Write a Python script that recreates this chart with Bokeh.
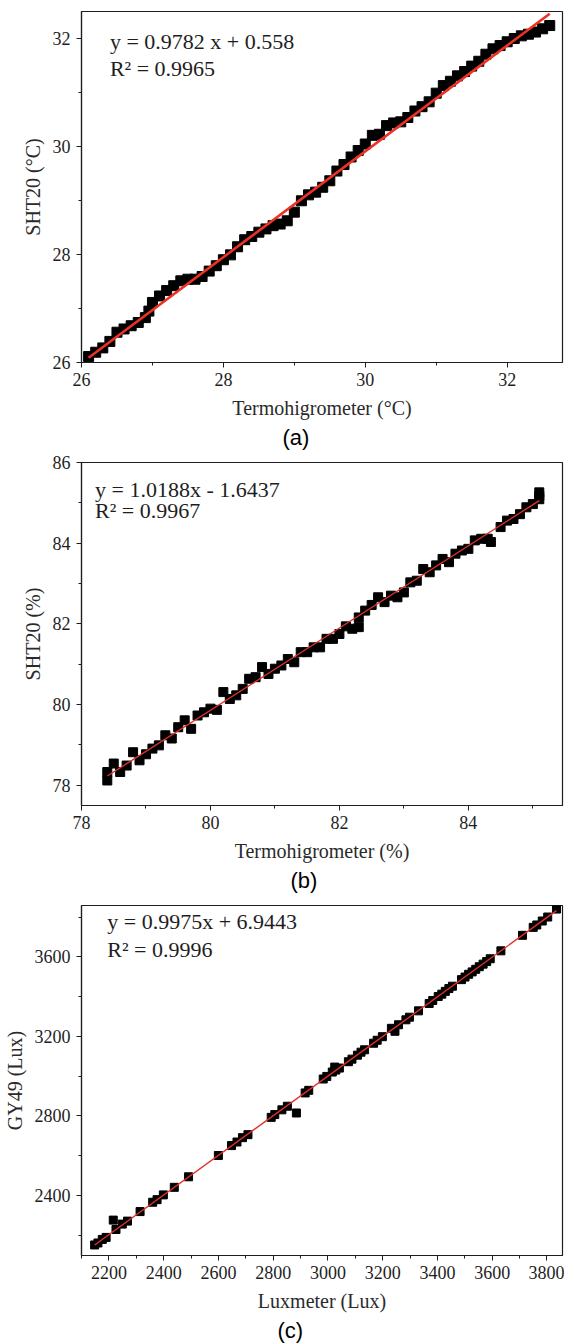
from bokeh.plotting import figure
from bokeh.layouts import column
from bokeh.models import Range1d, SingleIntervalTicker, Label, Title
from bokeh.embed import file_html
from bokeh.resources import INLINE

# ---------------- Panel (a): temperature ----------------
a_x = [26.1, 26.2, 26.3, 26.4, 26.5, 26.6, 26.7, 26.8, 26.9, 26.95,
       27.0, 27.1, 27.2, 27.3, 27.4, 27.5, 27.6, 27.7, 27.8, 27.9,
       28.0, 28.1, 28.2, 28.3, 28.4, 28.5, 28.6, 28.7, 28.8, 28.9,
       29.0, 29.1, 29.2, 29.3, 29.4, 29.5, 29.6, 29.7, 29.8, 29.9,
       30.0, 30.1, 30.2, 30.3, 30.4, 30.5, 30.6, 30.7, 30.8, 30.9,
       31.0, 31.1, 31.2, 31.3, 31.4, 31.5, 31.6, 31.7, 31.8, 31.9,
       32.0, 32.1, 32.2, 32.3, 32.4, 32.5, 32.6]
a_y = [26.11, 26.19, 26.27, 26.39, 26.56, 26.62, 26.68, 26.74, 26.83, 26.95,
       27.11, 27.23, 27.33, 27.42, 27.51, 27.54, 27.54, 27.59, 27.69, 27.79,
       27.90, 27.99, 28.14, 28.27, 28.33, 28.41, 28.47, 28.53, 28.56, 28.62,
       28.78, 28.99, 29.10, 29.15, 29.24, 29.36, 29.54, 29.66, 29.80, 29.92,
       30.04, 30.20, 30.22, 30.38, 30.43, 30.45, 30.53, 30.65, 30.73, 30.82,
       30.98, 31.12, 31.20, 31.30, 31.38, 31.48, 31.57, 31.70, 31.80, 31.86,
       31.93, 31.99, 32.04, 32.07, 32.11, 32.17, 32.23]
a_slope, a_intercept = 0.9782, 0.558
a_eq = "y = 0.9782 x + 0.558"
a_r2 = "R² = 0.9965"
a_xlabel = "Termohigrometer (°C)"
a_ylabel = "SHT20 (°C)"
a_tag = "(a)"

# ---------------- Panel (b): humidity ----------------
b_x = [78.4, 78.4, 78.5, 78.6, 78.7, 78.8, 78.9,
       79.0, 79.1, 79.2, 79.3, 79.4, 79.5, 79.6, 79.7, 79.8, 79.9,
       80.0, 80.1, 80.2, 80.3, 80.4, 80.5, 80.6, 80.7, 80.8, 80.9,
       81.0, 81.1, 81.2, 81.3, 81.4, 81.5, 81.6, 81.7, 81.8, 81.9,
       82.0, 82.1, 82.2, 82.3, 82.3, 82.4, 82.5, 82.6, 82.7, 82.8, 82.9,
       83.0, 83.1, 83.2, 83.3, 83.4, 83.5, 83.6, 83.7, 83.8, 83.9,
       84.0, 84.1, 84.2, 84.3, 84.35, 84.5, 84.6, 84.7, 84.8, 84.9,
       85.0, 85.1, 85.1, 85.1]
b_y = [78.12, 78.33, 78.54, 78.33, 78.49, 78.82, 78.62,
       78.77, 78.91, 78.99, 79.24, 79.16, 79.44, 79.61, 79.40, 79.73, 79.81,
       79.90, 79.87, 80.31, 80.14, 80.23, 80.39, 80.64, 80.68, 80.93, 80.76,
       80.89, 80.97, 81.13, 81.05, 81.30, 81.30, 81.42, 81.42, 81.63, 81.63,
       81.75, 81.94, 81.88, 81.92, 82.16, 82.33, 82.47, 82.66, 82.54, 82.70, 82.66,
       82.78, 83.03, 83.07, 83.36, 83.28, 83.45, 83.61, 83.53, 83.74, 83.82,
       83.86, 84.07, 84.11, 84.11, 84.03, 84.40, 84.56, 84.60, 84.72, 84.89,
       84.97, 85.09, 85.26, 85.17]
b_slope, b_intercept = 1.0188, -1.6437
b_eq = "y = 1.0188x - 1.6437"
b_r2 = "R² = 0.9967"
b_xlabel = "Termohigrometer (%)"
b_ylabel = "SHT20 (%)"
b_tag = "(b)"

# ---------------- Panel (c): illuminance ----------------
c_x = [2148, 2160, 2176, 2190, 2216, 2226, 2249, 2268, 2314, 2360,
       2376, 2399, 2439, 2491, 2600, 2648, 2668, 2688, 2708, 2793,
       2806, 2832, 2852, 2885, 2917, 2930, 2983, 2996, 3016, 3025,
       3029, 3042, 3075, 3088, 3108, 3121, 3134, 3167, 3180, 3199,
       3232, 3245, 3258, 3285, 3298, 3331, 3370, 3383, 3403, 3416,
       3429, 3442, 3455, 3488, 3501, 3514, 3527, 3540, 3553, 3567,
       3580, 3593, 3632, 3711, 3750, 3763, 3783, 3803, 3835]
c_y = [2150, 2160, 2178, 2188, 2275, 2228, 2255, 2270, 2318, 2365,
       2378, 2402, 2440, 2493, 2600, 2650, 2668, 2690, 2705, 2792,
       2806, 2830, 2848, 2814, 2915, 2928, 2985, 2998, 3020, 3045,
       3030, 3040, 3072, 3085, 3105, 3120, 3132, 3165, 3180, 3198,
       3240, 3225, 3258, 3283, 3296, 3328, 3365, 3380, 3400, 3412,
       3426, 3440, 3452, 3485, 3498, 3512, 3524, 3537, 3550, 3563,
       3576, 3590, 3630, 3708, 3748, 3760, 3780, 3800, 3840]
c_slope, c_intercept = 0.9975, 6.9443
c_eq = "y = 0.9975x + 6.9443"
c_r2 = "R² = 0.9996"
c_xlabel = "Luxmeter (Lux)"
c_ylabel = "GY49 (Lux)"
c_tag = "(c)"

SERIF = "Liberation Serif"
SANS = "Liberation Sans"
INK = "#1e1e1e"


def panel(xs, ys, slope, intercept, eq, r2, xlabel, ylabel, tag,
          xr, yr, xint, yint, height, borders, eq_pos, r2_pos,
          msize, lw, lcolor, tag_offset):
    left, right, top, bottom = borders
    p = figure(width=564, height=height, x_range=Range1d(*xr), y_range=Range1d(*yr),
               output_backend="svg", toolbar_location=None,
               min_border_left=left, min_border_right=right,
               min_border_top=top, min_border_bottom=bottom)
    p.grid.visible = False
    p.outline_line_color = INK
    p.outline_line_width = 1.2
    p.outline_line_alpha = 1.0
    p.background_fill_color = "white"
    p.border_fill_color = "white"

    p.xaxis.ticker = SingleIntervalTicker(interval=xint, num_minor_ticks=2)
    p.yaxis.ticker = SingleIntervalTicker(interval=yint, num_minor_ticks=2)
    for ax in (p.xaxis, p.yaxis):
        ax.axis_line_color = INK
        ax.axis_line_width = 1.2
        ax.major_tick_line_color = INK
        ax.minor_tick_line_color = INK
        ax.major_tick_in = 0
        ax.major_tick_out = 5
        ax.minor_tick_in = 0
        ax.minor_tick_out = 3
        ax.major_label_text_font = SERIF
        ax.major_label_text_font_size = "18px"
        ax.major_label_text_color = INK
        ax.axis_label_text_font = SERIF
        ax.axis_label_text_font_size = "20px"
        ax.axis_label_text_font_style = "normal"
        ax.axis_label_text_color = "#2a2a2a"
    p.xaxis.major_label_standoff = 5
    p.yaxis.major_label_standoff = 6
    p.xaxis.axis_label_standoff = 8
    p.yaxis.axis_label_standoff = 6
    p.xaxis.axis_label = xlabel
    p.yaxis.axis_label = ylabel

    # markers first, fitted red line drawn on top (as in the reference)
    p.scatter(xs, ys, marker="square", size=msize, fill_color="black",
              line_color="black")
    x0, x1 = min(xs), max(xs)
    p.line([x0, x1], [slope * x0 + intercept, slope * x1 + intercept],
           line_color=lcolor, line_width=lw)

    for txt, (tx, ty) in ((eq, eq_pos), (r2, r2_pos)):
        p.add_layout(Label(x=tx, y=ty, text=txt, text_font=SERIF,
                           text_font_size="22px", text_color=INK,
                           text_align="left", text_baseline="middle"))

    p.add_layout(Title(text=tag, align="left", offset=tag_offset, standoff=2,
                       text_font=SANS, text_font_size="22px",
                       text_font_style="normal", text_color="black"), "below")
    return p


pa = panel(a_x, a_y, a_slope, a_intercept, a_eq, a_r2, a_xlabel, a_ylabel, a_tag,
           (26, 32.78), (26, 32.49), 2, 2, 450, (75, 2, 11, 88),
           (26.40, 31.93), (26.40, 31.43), 10, 2.6, "#ee3124", 201)
pb = panel(b_x, b_y, b_slope, b_intercept, b_eq, b_r2, b_xlabel, b_ylabel, b_tag,
           (78, 85.46), (77.5, 86), 2, 2, 450, (67, 2, 12, 95),
           (78.21, 85.34), (78.21, 84.80), 9, 1.4, "#e0302a", 209)
pc = panel(c_x, c_y, c_slope, c_intercept, c_eq, c_r2, c_xlabel, c_ylabel, c_tag,
           (2100, 3857), (2097, 3858), 200, 400, 443, (80, 2, 5, 85),
           (2194, 3780), (2194, 3638), 8, 1.4, "#e0302a", 196)

layout = column(pa, pb, pc, spacing=0)
open("out.html", "w").write(file_html(layout, INLINE))
